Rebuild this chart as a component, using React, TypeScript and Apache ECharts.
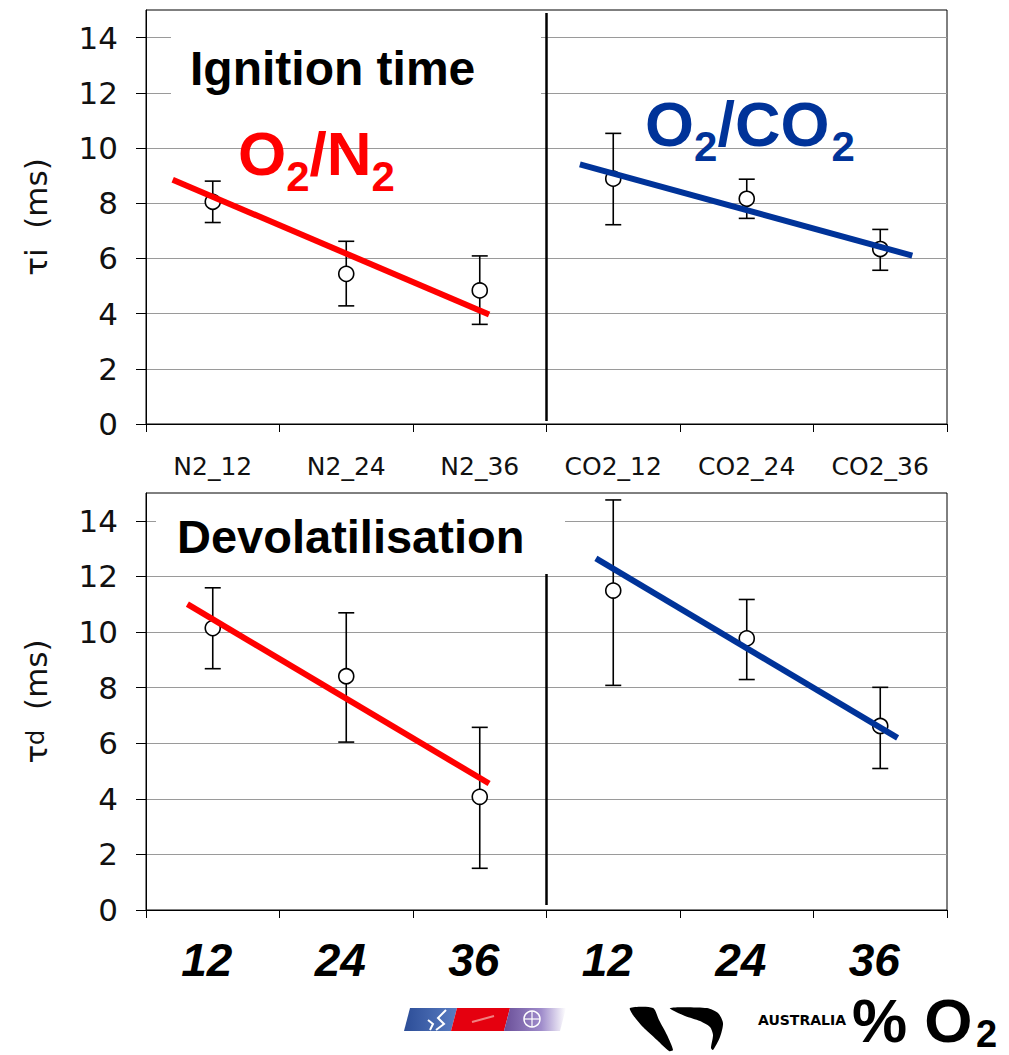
import React, { useEffect, useRef } from 'react';
import * as echarts from 'echarts';

// ---- data ----
const categoriesTop = ['N2_12', 'N2_24', 'N2_36', 'CO2_12', 'CO2_24', 'CO2_36'];
const categoriesBottom = ['12', '24', '36', '12', '24', '36'];
const yTicks = [0, 2, 4, 6, 8, 10, 12, 14];

const ignitionMean = [8.05, 5.44, 4.84, 8.89, 8.16, 6.34];
const ignitionLow = [7.3, 4.28, 3.61, 7.22, 7.45, 5.57];
const ignitionHigh = [8.8, 6.62, 6.09, 10.53, 8.87, 7.05];

const devolMean = [10.14, 8.41, 4.07, 11.49, 9.77, 6.62];
const devolLow = [8.68, 6.04, 1.5, 8.08, 8.29, 5.09];
const devolHigh = [11.59, 10.69, 6.57, 14.75, 11.17, 8.01];

// trend lines: [category position, value]
const ignitionN2Fit = [[-0.3, 8.85], [2.07, 3.97]];
const ignitionCO2Fit = [[2.75, 9.41], [5.24, 6.1]];
const devolN2Fit = [[-0.19, 11.0], [2.07, 4.55]];
const devolCO2Fit = [[2.87, 12.65], [5.13, 6.19]];

// separator between the N2 and CO2 groups
const dividerTop = [[2.5, 14.89], [2.5, 0.11]];
const dividerBottom = [[2.5, 12.09], [2.5, 0.18]];

const RED = '#ff0000';
const BLUE = '#003399';
const SANS = 'DejaVu Sans';
const ARIAL = 'Liberation Sans';

function txt(text: string, x: number, baseline: number, size: number, extra: any = {}) {
  return {
    type: 'text',
    x,
    y: baseline - 0.35 * size,
    z: 110,
    style: {
      text,
      fontSize: size,
      lineHeight: size,
      fontFamily: ARIAL,
      fontWeight: 'bold',
      fill: '#000',
      align: 'left',
      verticalAlign: 'middle',
      ...extra,
    },
  };
}

function panelSeries(
  gridIdx: number,
  mean: number[],
  low: number[],
  high: number[],
  n2Fit: number[][],
  co2Fit: number[][],
  divider: number[][]
) {
  const catX = gridIdx * 2;
  const valX = gridIdx * 2 + 1;
  return [
    {
      type: 'custom',
      xAxisIndex: catX,
      yAxisIndex: gridIdx,
      z: 3,
      encode: { x: 0, y: [1, 2] },
      data: mean.map((_, i) => [i, low[i], high[i]]),
      renderItem: (params: any, api: any) => {
        const lo = api.coord([api.value(0), api.value(1)]);
        const hi = api.coord([api.value(0), api.value(2)]);
        const w = 8;
        const st = { stroke: '#000', lineWidth: 1.6 };
        return {
          type: 'group',
          children: [
            { type: 'line', shape: { x1: lo[0], y1: lo[1], x2: hi[0], y2: hi[1] }, style: st },
            { type: 'line', shape: { x1: lo[0] - w, y1: lo[1], x2: lo[0] + w, y2: lo[1] }, style: st },
            { type: 'line', shape: { x1: hi[0] - w, y1: hi[1], x2: hi[0] + w, y2: hi[1] }, style: st },
          ],
        };
      },
    },
    {
      type: 'scatter',
      xAxisIndex: catX,
      yAxisIndex: gridIdx,
      z: 4,
      symbol: 'circle',
      symbolSize: 15,
      itemStyle: { color: '#fff', borderColor: '#000', borderWidth: 1.6, opacity: 1 },
      data: mean.map((v, i) => [i, v]),
    },
    {
      type: 'line',
      xAxisIndex: valX,
      yAxisIndex: gridIdx,
      z: 5,
      symbol: 'none',
      lineStyle: { color: RED, width: 6 },
      data: n2Fit,
      markLine: {
        silent: true,
        symbol: ['none', 'none'],
        label: { show: false },
        lineStyle: { color: '#000', width: 2.5, type: 'solid' },
        data: [[{ coord: divider[0] }, { coord: divider[1] }]],
      },
    },
    {
      type: 'line',
      xAxisIndex: valX,
      yAxisIndex: gridIdx,
      z: 5,
      symbol: 'none',
      lineStyle: { color: BLUE, width: 6 },
      data: co2Fit,
    },
  ];
}

function yAxis(gridIndex: number, name: any) {
  return {
    type: 'value',
    gridIndex,
    min: 0,
    max: 15,
    interval: 2,
    axisLine: { show: true, onZero: false, lineStyle: { color: '#000', width: 1 } },
    axisTick: { show: true, length: 10, lineStyle: { color: '#000' }, customValues: yTicks },
    axisLabel: { customValues: yTicks, fontSize: 31, fontFamily: SANS, color: '#111', margin: 28 },
    splitLine: { show: true, lineStyle: { color: '#9a9a9a', width: 1 } },
    name,
    nameLocation: 'middle',
    nameRotate: 90,
    nameGap: 95,
    nameTextStyle: {
      fontSize: 31,
      fontFamily: SANS,
      color: '#111',
      rich: {
        m: { fontSize: 31, fontFamily: SANS, color: '#111' },
        s: { fontSize: 24, fontFamily: SANS, color: '#111' },
      },
    },
  };
}

export default function App() {
  const ref = useRef<HTMLDivElement>(null);
  useEffect(() => {
    if (!ref.current) return;
    const chart = echarts.init(ref.current, null, { renderer: 'svg' });

    const valueX = (gridIndex: number) => ({
      type: 'value',
      gridIndex,
      min: -0.5,
      max: 5.5,
      show: false,
      axisLine: { onZero: false },
    });

    const option: any = {
      animation: false,
      backgroundColor: '#fff',
      grid: [
        { left: 146, top: 10, width: 801, height: 414, show: true, borderColor: '#000', borderWidth: 1, backgroundColor: 'transparent' },
        { left: 146, top: 493, width: 801, height: 417, show: true, borderColor: '#000', borderWidth: 1, backgroundColor: 'transparent' },
      ],
      xAxis: [
        {
          type: 'category',
          gridIndex: 0,
          data: categoriesTop,
          boundaryGap: true,
          axisLine: { onZero: false, lineStyle: { color: '#000', width: 1 } },
          axisTick: { show: true, interval: 0, length: 8, lineStyle: { color: '#000' } },
          axisLabel: { interval: 0, fontSize: 25, fontFamily: SANS, color: '#111', margin: 30 },
          splitLine: { show: false },
        },
        valueX(0),
        {
          type: 'category',
          gridIndex: 1,
          data: categoriesBottom,
          boundaryGap: true,
          axisLine: { onZero: false, lineStyle: { color: '#000', width: 1 } },
          axisTick: { show: true, interval: 0, length: 8, lineStyle: { color: '#000' } },
          axisLabel: {
            interval: 0,
            fontSize: 46,
            fontFamily: ARIAL,
            fontWeight: 'bold',
            fontStyle: 'italic',
            color: '#000',
            margin: 27,
            padding: [0, 12, 0, 0],
          },
          splitLine: { show: false },
        },
        valueX(1),
      ],
      yAxis: [yAxis(0, 'τi  (ms)'), yAxis(1, '{m|τ}{s|d}{m|  (ms)}')],
      series: [
        ...panelSeries(0, ignitionMean, ignitionLow, ignitionHigh, ignitionN2Fit, ignitionCO2Fit, dividerTop),
        ...panelSeries(1, devolMean, devolLow, devolHigh, devolN2Fit, devolCO2Fit, dividerBottom),
      ],
      graphic: {
        elements: [
          { type: 'rect', z: 100, shape: { x: 171, y: 22, width: 370, height: 95 }, style: { fill: '#fff' } },
          { type: 'rect', z: 100, shape: { x: 156, y: 498, width: 409, height: 72 }, style: { fill: '#fff' } },
          txt('Ignition time', 190, 85, 48),
          txt('Devolatilisation', 177, 553, 47),
          // O2/N2
          txt('O', 238, 175, 62, { fill: RED }),
          txt('2', 286.2, 191, 42, { fill: RED }),
          txt('/N', 309.6, 175, 62, { fill: RED }),
          txt('2', 371.6, 191, 42, { fill: RED }),
          // O2/CO2
          txt('O', 645, 146, 63, { fill: BLUE }),
          txt('2', 694, 161, 42, { fill: BLUE }),
          txt('/CO', 717.4, 146, 63, { fill: BLUE }),
          txt('2', 831.6, 161, 42, { fill: BLUE }),
          // logos
          {
            type: 'polygon', z: 100,
            shape: { points: [[410, 1008], [457, 1008], [451, 1031], [404, 1031]] },
            style: { fill: new echarts.graphic.LinearGradient(0, 0, 1, 0, [{ offset: 0, color: '#2c4d97' }, { offset: 1, color: '#5a7dc2' }]) },
          },
          {
            type: 'polygon', z: 100,
            shape: { points: [[457, 1008], [510, 1008], [504, 1031], [451, 1031]] },
            style: { fill: '#e5000f' },
          },
          {
            type: 'polygon', z: 100,
            shape: { points: [[510, 1008], [566, 1008], [560, 1031], [504, 1031]] },
            style: { fill: new echarts.graphic.LinearGradient(0, 0, 1, 0, [{ offset: 0, color: '#6a4f98' }, { offset: 0.6, color: '#9f8ccb' }, { offset: 1, color: '#ffffff' }]) },
          },
          { type: 'circle', z: 101, shape: { cx: 532, cy: 1019, r: 8 }, style: { fill: 'none', stroke: '#fff', lineWidth: 1.5 } },
          { type: 'line', z: 101, shape: { x1: 524, y1: 1019, x2: 540, y2: 1019 }, style: { stroke: '#fff', lineWidth: 1.2 } },
          { type: 'line', z: 101, shape: { x1: 532, y1: 1011, x2: 532, y2: 1027 }, style: { stroke: '#fff', lineWidth: 1.2 } },
          { type: 'polyline', z: 101, shape: { points: [[446, 1010], [438, 1018], [444, 1024], [436, 1030]] }, style: { stroke: '#fff', lineWidth: 2, fill: 'none' } },
          { type: 'polyline', z: 101, shape: { points: [[430, 1030], [433, 1024], [428, 1020]] }, style: { stroke: '#fff', lineWidth: 2, fill: 'none' } },
          { type: 'polyline', z: 101, shape: { points: [[472, 1022], [494, 1016]] }, style: { stroke: '#f08080', lineWidth: 2, fill: 'none' } },
          {
            type: 'polygon', z: 100,
            shape: {
              smooth: 0.25,
              points: [[630, 1008], [653, 1008], [659, 1020], [667, 1035], [673, 1050], [669, 1051], [657, 1040], [643, 1027], [633, 1015]],
            },
            style: { fill: '#000' },
          },
          {
            type: 'polygon', z: 100,
            shape: {
              smooth: 0.25,
              points: [[670, 1008], [707, 1008], [718, 1013], [723, 1023], [720, 1037], [713, 1050], [711, 1048], [713, 1035], [710, 1027], [700, 1021], [685, 1016]],
            },
            style: { fill: '#000' },
          },
          txt('AUSTRALIA', 758, 1025, 14, { fontFamily: SANS }),
          txt('% O', 852, 1042, 62),
          txt('2', 976, 1047, 38),
        ],
      },
    };
    chart.setOption(option);
    return () => chart.dispose();
  }, []);
  return <div ref={ref} style={{ position: 'absolute', left: 0, top: 0, width: 1009, height: 1055 }} />;
}
